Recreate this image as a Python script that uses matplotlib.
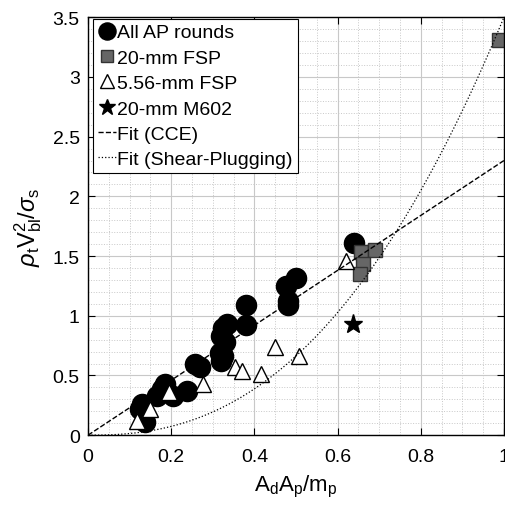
import numpy as np
import matplotlib.pyplot as plt
from matplotlib.ticker import MultipleLocator

plt.rcParams['font.family'] = ['Liberation Sans', 'DejaVu Sans']
plt.rcParams['mathtext.fontset'] = 'custom'
plt.rcParams['mathtext.rm'] = 'Liberation Sans'
plt.rcParams['mathtext.it'] = 'Liberation Sans:italic'

# All AP rounds
ap_x = [0.125, 0.137, 0.13, 0.165, 0.177, 0.185, 0.205, 0.237, 0.257, 0.27,
        0.32, 0.317, 0.325, 0.33, 0.32, 0.325, 0.335, 0.38, 0.38,
        0.477, 0.48, 0.48, 0.50, 0.64]
ap_y = [0.22, 0.11, 0.26, 0.33, 0.39, 0.43, 0.33, 0.37, 0.60, 0.57,
        0.62, 0.69, 0.66, 0.78, 0.83, 0.90, 0.93, 0.92, 1.09,
        1.25, 1.12, 1.09, 1.32, 1.61]
# 20-mm FSP
fsp20_x = [0.657, 0.69, 0.66, 0.655, 0.988]
fsp20_y = [1.53, 1.55, 1.43, 1.35, 3.31]
# 5.56-mm FSP
fsp556_x = [0.117, 0.149, 0.194, 0.276, 0.353, 0.37, 0.417, 0.449, 0.508, 0.62]
fsp556_y = [0.12, 0.22, 0.36, 0.43, 0.57, 0.54, 0.51, 0.74, 0.66, 1.46]
# 20-mm M602
m602_x = [0.636]
m602_y = [0.93]

# tick labels
xticks = [0, 0.2, 0.4, 0.6, 0.8, 1]
xlabels = ['0', '0.2', '0.4', '0.6', '0.8', '1']
yticks = [0, 0.5, 1, 1.5, 2, 2.5, 3, 3.5]
ylabels = ['0', '0.5', '1', '1.5', '2', '2.5', '3', '3.5']

# fit coefficients
cce_slope = 2.3
sp_coef = 3.5
sp_pow = 2.4

fig = plt.figure(figsize=(5.06, 5.06), dpi=100)
ax = fig.add_axes([0.174, 0.138, 0.822, 0.826])

ax.plot(ap_x, ap_y, 'o', color='k', markersize=14.5, label='All AP rounds')
ax.plot(fsp20_x, fsp20_y, 's', markerfacecolor='#666666', markeredgecolor='#333333',
        markersize=10, label='20-mm FSP')
ax.plot(fsp556_x, fsp556_y, '^', markerfacecolor='white', markeredgecolor='k',
        markersize=11.5, markeredgewidth=1, label='5.56-mm FSP')
ax.plot(m602_x, m602_y, '*', color='k', markersize=14, label='20-mm M602')

xf = np.linspace(0, 1, 200)
ax.plot(xf, cce_slope * xf, '--', color='k', linewidth=1, label='Fit (CCE)')
ax.plot(xf, sp_coef * xf ** sp_pow, ':', color='k', linewidth=0.9,
        label='Fit (Shear-Plugging)')

ax.set_xlim(0, 1)
ax.set_ylim(0, 3.5)
ax.set_xticks(xticks, xlabels)
ax.set_yticks(yticks, ylabels)
ax.xaxis.set_minor_locator(MultipleLocator(0.05))
ax.yaxis.set_minor_locator(MultipleLocator(0.1))

ax.grid(which='major', color='#c8c8c8', linewidth=0.8)
ax.grid(which='minor', color='#c8c8c8', linestyle=':', linewidth=0.7)
ax.set_axisbelow(True)
ax.tick_params(which='major', direction='in', top=True, right=True, length=5,
               labelsize=14, width=0.8)
ax.tick_params(axis='x', pad=9)
ax.tick_params(axis='y', pad=6)
ax.tick_params(which='minor', length=0)
for s in ax.spines.values():
    s.set_linewidth(1)

ax.set_xlabel(r'$\mathrm{A_dA_p/m_p}$', fontsize=16, labelpad=6)
ax.set_ylabel(r'$\rho_\mathrm{t}\mathrm{V}^2_\mathrm{bl}/\sigma_\mathrm{s}$', fontsize=17,
              labelpad=6)

leg = ax.legend(loc='upper left', bbox_to_anchor=(0.012, 0.996), borderaxespad=0,
                fontsize=14, handlelength=0.95, handletextpad=0.05,
                borderpad=0.25, labelspacing=0.4, fancybox=False, framealpha=1,
                edgecolor='k', markerscale=0.85)
leg.get_frame().set_linewidth(0.8)

fig.savefig('out.png', dpi=100)
